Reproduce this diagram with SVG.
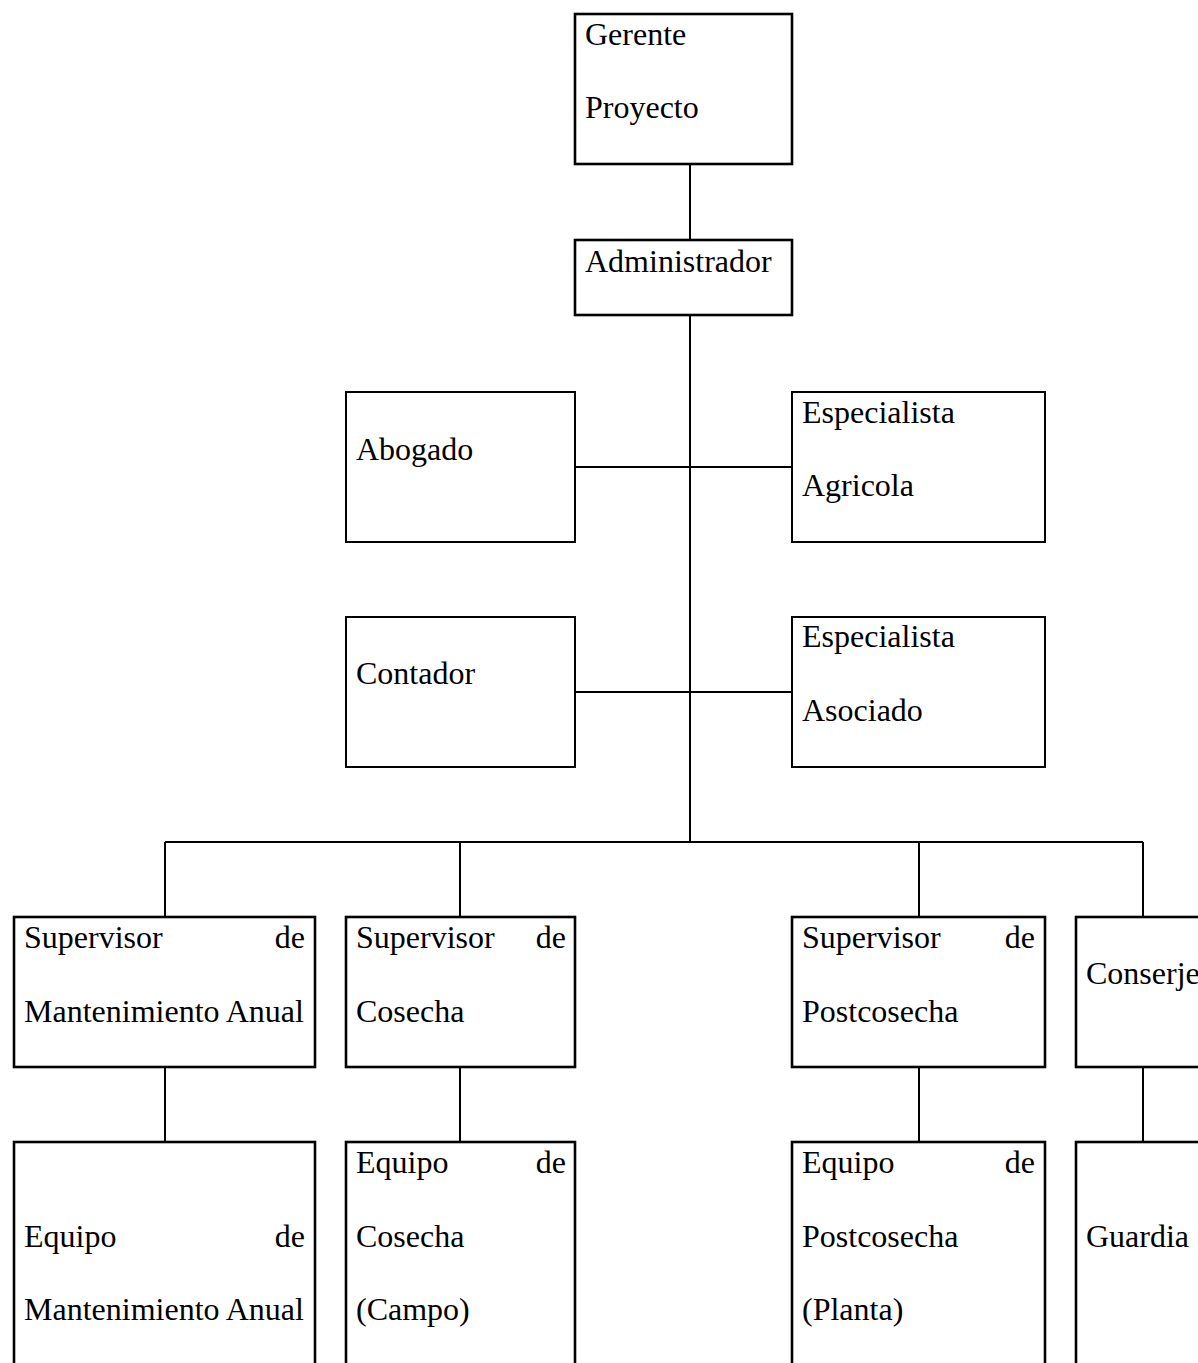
<svg xmlns="http://www.w3.org/2000/svg" width="1198" height="1363" viewBox="0 0 1198 1363">
<style>
  .bg { fill: #ffffff; }
  .box { fill: #ffffff; stroke: #000000; stroke-width: 2.6; }
  .box2 { fill: #ffffff; stroke: #000000; stroke-width: 2; }
  .t { font-family: "Liberation Serif", "Times New Roman", serif; font-size: 32px; fill: #000000; }
  .r { text-anchor: end; }
  .c { fill: none; stroke: #000000; stroke-width: 2; }
</style>
<rect class="bg" x="0" y="0" width="1198" height="1363"/>
<g id="connectors">
  <line class="c" x1="690" y1="164" x2="690" y2="240"/>
  <line class="c" x1="690" y1="315" x2="690" y2="842"/>
  <line class="c" x1="575" y1="467" x2="792" y2="467"/>
  <line class="c" x1="575" y1="692" x2="792" y2="692"/>
  <line class="c" x1="165" y1="842" x2="1143" y2="842"/>
  <line class="c" x1="165" y1="842" x2="165" y2="917"/>
  <line class="c" x1="460" y1="842" x2="460" y2="917"/>
  <line class="c" x1="919" y1="842" x2="919" y2="917"/>
  <line class="c" x1="1143" y1="842" x2="1143" y2="917"/>
  <line class="c" x1="165" y1="1067" x2="165" y2="1142"/>
  <line class="c" x1="460" y1="1067" x2="460" y2="1142"/>
  <line class="c" x1="919" y1="1067" x2="919" y2="1142"/>
  <line class="c" x1="1143" y1="1067" x2="1143" y2="1142"/>
</g>
<g id="gerente">
  <rect class="box" x="575" y="14" width="217" height="150"/>
  <text class="t" x="585" y="45">Gerente</text>
  <text class="t" x="585" y="118">Proyecto</text>
</g>
<g id="administrador">
  <rect class="box" x="575" y="240" width="217" height="75"/>
  <text class="t" x="585" y="272">Administrador</text>
</g>
<g id="abogado">
  <rect class="box2" x="346" y="392" width="229" height="150"/>
  <text class="t" x="356" y="460">Abogado</text>
</g>
<g id="especialista-agricola">
  <rect class="box2" x="792" y="392" width="253" height="150"/>
  <text class="t" x="802" y="423">Especialista</text>
  <text class="t" x="802" y="496">Agricola</text>
</g>
<g id="contador">
  <rect class="box2" x="346" y="617" width="229" height="150"/>
  <text class="t" x="356" y="684">Contador</text>
</g>
<g id="especialista-asociado">
  <rect class="box2" x="792" y="617" width="253" height="150"/>
  <text class="t" x="802" y="647">Especialista</text>
  <text class="t" x="802" y="721">Asociado</text>
</g>
<g id="supervisor-mantenimiento">
  <rect class="box" x="14" y="917" width="301" height="150"/>
  <text class="t" x="24" y="948">Supervisor</text>
  <text class="t r" x="305" y="948">de</text>
  <text class="t" x="24" y="1022">Mantenimiento Anual</text>
</g>
<g id="supervisor-cosecha">
  <rect class="box" x="346" y="917" width="229" height="150"/>
  <text class="t" x="356" y="948">Supervisor</text>
  <text class="t r" x="566" y="948">de</text>
  <text class="t" x="356" y="1022">Cosecha</text>
</g>
<g id="supervisor-postcosecha">
  <rect class="box" x="792" y="917" width="253" height="150"/>
  <text class="t" x="802" y="948">Supervisor</text>
  <text class="t r" x="1035" y="948">de</text>
  <text class="t" x="802" y="1022">Postcosecha</text>
</g>
<g id="conserje">
  <rect class="box" x="1076" y="917" width="140" height="150"/>
  <text class="t" x="1086" y="984">Conserje</text>
</g>
<g id="equipo-mantenimiento">
  <rect class="box" x="14" y="1142" width="301" height="240"/>
  <text class="t" x="24" y="1247">Equipo</text>
  <text class="t r" x="305" y="1247">de</text>
  <text class="t" x="24" y="1320">Mantenimiento Anual</text>
</g>
<g id="equipo-cosecha">
  <rect class="box" x="346" y="1142" width="229" height="240"/>
  <text class="t" x="356" y="1173">Equipo</text>
  <text class="t r" x="566" y="1173">de</text>
  <text class="t" x="356" y="1247">Cosecha</text>
  <text class="t" x="356" y="1320">(Campo)</text>
</g>
<g id="equipo-postcosecha">
  <rect class="box" x="792" y="1142" width="253" height="240"/>
  <text class="t" x="802" y="1173">Equipo</text>
  <text class="t r" x="1035" y="1173">de</text>
  <text class="t" x="802" y="1247">Postcosecha</text>
  <text class="t" x="802" y="1320">(Planta)</text>
</g>
<g id="guardia">
  <rect class="box" x="1076" y="1142" width="140" height="240"/>
  <text class="t" x="1086" y="1247">Guardia</text>
</g>
</svg>
